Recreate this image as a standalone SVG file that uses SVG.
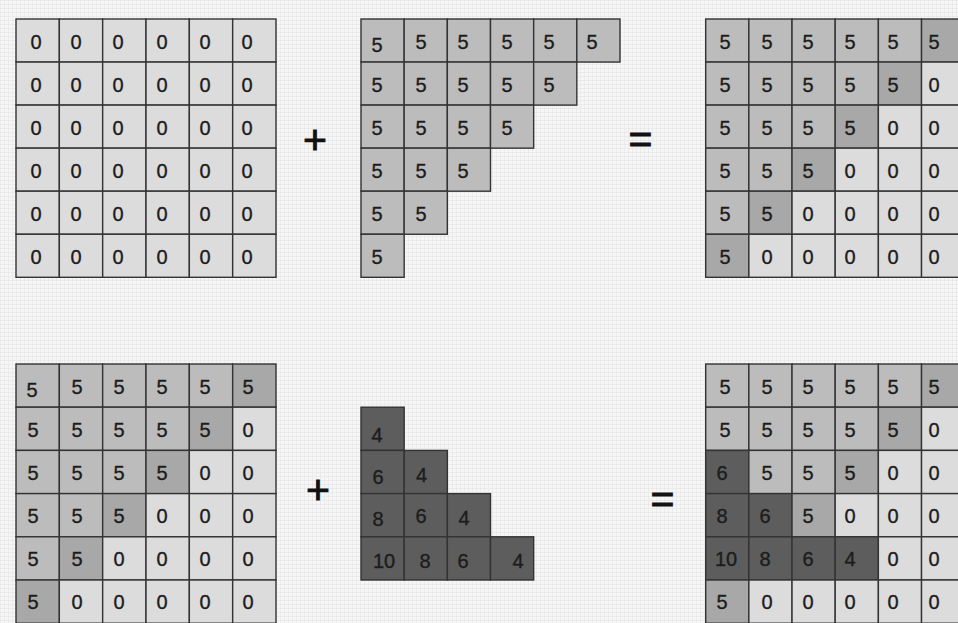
<svg xmlns="http://www.w3.org/2000/svg" width="958" height="623" viewBox="0 0 958 623">
<defs>
<pattern id="paper" width="4" height="4" patternUnits="userSpaceOnUse">
<rect width="4" height="4" fill="#f6f6f6"/>
<path d="M0 0.5H4M0.5 0V4" stroke="#e8e8e8" stroke-width="0.8"/>
</pattern>
</defs>
<style>
rect.l{fill:#dcdcdc}
rect.m{fill:#bcbcbc}
rect.d{fill:#a8a8a8}
rect.k{fill:#5d5d5d}
rect.l,rect.m,rect.d,rect.k{stroke:#333333;stroke-width:1.4}
text{font-family:"Liberation Sans",Arial,Helvetica,sans-serif;font-size:20px;fill:#1c1c1c;stroke:#1c1c1c;stroke-width:0.35;text-anchor:middle}
text.op{font-size:41px;fill:#111;stroke:#111;stroke-width:0.9}
</style>
<rect width="958" height="623" fill="url(#paper)"/>

<g id="grid-zeros">
<rect class="l" x="16" y="19" width="43.33" height="43.05"/><rect class="l" x="59.33" y="19" width="43.33" height="43.05"/><rect class="l" x="102.67" y="19" width="43.33" height="43.05"/><rect class="l" x="146" y="19" width="43.33" height="43.05"/><rect class="l" x="189.33" y="19" width="43.33" height="43.05"/><rect class="l" x="232.67" y="19" width="43.33" height="43.05"/>
<rect class="l" x="16" y="62.05" width="43.33" height="43.05"/><rect class="l" x="59.33" y="62.05" width="43.33" height="43.05"/><rect class="l" x="102.67" y="62.05" width="43.33" height="43.05"/><rect class="l" x="146" y="62.05" width="43.33" height="43.05"/><rect class="l" x="189.33" y="62.05" width="43.33" height="43.05"/><rect class="l" x="232.67" y="62.05" width="43.33" height="43.05"/>
<rect class="l" x="16" y="105.1" width="43.33" height="43.05"/><rect class="l" x="59.33" y="105.1" width="43.33" height="43.05"/><rect class="l" x="102.67" y="105.1" width="43.33" height="43.05"/><rect class="l" x="146" y="105.1" width="43.33" height="43.05"/><rect class="l" x="189.33" y="105.1" width="43.33" height="43.05"/><rect class="l" x="232.67" y="105.1" width="43.33" height="43.05"/>
<rect class="l" x="16" y="148.15" width="43.33" height="43.05"/><rect class="l" x="59.33" y="148.15" width="43.33" height="43.05"/><rect class="l" x="102.67" y="148.15" width="43.33" height="43.05"/><rect class="l" x="146" y="148.15" width="43.33" height="43.05"/><rect class="l" x="189.33" y="148.15" width="43.33" height="43.05"/><rect class="l" x="232.67" y="148.15" width="43.33" height="43.05"/>
<rect class="l" x="16" y="191.2" width="43.33" height="43.05"/><rect class="l" x="59.33" y="191.2" width="43.33" height="43.05"/><rect class="l" x="102.67" y="191.2" width="43.33" height="43.05"/><rect class="l" x="146" y="191.2" width="43.33" height="43.05"/><rect class="l" x="189.33" y="191.2" width="43.33" height="43.05"/><rect class="l" x="232.67" y="191.2" width="43.33" height="43.05"/>
<rect class="l" x="16" y="234.25" width="43.33" height="43.05"/><rect class="l" x="59.33" y="234.25" width="43.33" height="43.05"/><rect class="l" x="102.67" y="234.25" width="43.33" height="43.05"/><rect class="l" x="146" y="234.25" width="43.33" height="43.05"/><rect class="l" x="189.33" y="234.25" width="43.33" height="43.05"/><rect class="l" x="232.67" y="234.25" width="43.33" height="43.05"/>
<text x="36" y="48.5">0</text><text x="76" y="48.5">0</text><text x="118" y="48.5">0</text><text x="162" y="48.5">0</text><text x="205" y="48.5">0</text><text x="247" y="48.5">0</text>
<text x="36" y="91.5">0</text><text x="76" y="91.5">0</text><text x="118" y="91.5">0</text><text x="162" y="91.5">0</text><text x="205" y="91.5">0</text><text x="247" y="91.5">0</text>
<text x="36" y="134.5">0</text><text x="76" y="134.5">0</text><text x="118" y="134.5">0</text><text x="162" y="134.5">0</text><text x="205" y="134.5">0</text><text x="247" y="134.5">0</text>
<text x="36" y="177.5">0</text><text x="76" y="177.5">0</text><text x="118" y="177.5">0</text><text x="162" y="177.5">0</text><text x="205" y="177.5">0</text><text x="247" y="177.5">0</text>
<text x="36" y="220.5">0</text><text x="76" y="220.5">0</text><text x="118" y="220.5">0</text><text x="162" y="220.5">0</text><text x="205" y="220.5">0</text><text x="247" y="220.5">0</text>
<text x="36" y="263.5">0</text><text x="76" y="263.5">0</text><text x="118" y="263.5">0</text><text x="162" y="263.5">0</text><text x="205" y="263.5">0</text><text x="247" y="263.5">0</text>
</g>

<g id="triangle-fives">
<rect class="m" x="361" y="19" width="43.17" height="43.05"/><rect class="m" x="404.17" y="19" width="43.17" height="43.05"/><rect class="m" x="447.33" y="19" width="43.17" height="43.05"/><rect class="m" x="490.5" y="19" width="43.17" height="43.05"/><rect class="m" x="533.67" y="19" width="43.17" height="43.05"/><rect class="m" x="576.83" y="19" width="43.17" height="43.05"/>
<rect class="m" x="361" y="62.05" width="43.17" height="43.05"/><rect class="m" x="404.17" y="62.05" width="43.17" height="43.05"/><rect class="m" x="447.33" y="62.05" width="43.17" height="43.05"/><rect class="m" x="490.5" y="62.05" width="43.17" height="43.05"/><rect class="m" x="533.67" y="62.05" width="43.17" height="43.05"/>
<rect class="m" x="361" y="105.1" width="43.17" height="43.05"/><rect class="m" x="404.17" y="105.1" width="43.17" height="43.05"/><rect class="m" x="447.33" y="105.1" width="43.17" height="43.05"/><rect class="m" x="490.5" y="105.1" width="43.17" height="43.05"/>
<rect class="m" x="361" y="148.15" width="43.17" height="43.05"/><rect class="m" x="404.17" y="148.15" width="43.17" height="43.05"/><rect class="m" x="447.33" y="148.15" width="43.17" height="43.05"/>
<rect class="m" x="361" y="191.2" width="43.17" height="43.05"/><rect class="m" x="404.17" y="191.2" width="43.17" height="43.05"/>
<rect class="m" x="361" y="234.25" width="43.17" height="43.05"/>
<text x="377" y="51.5">5</text><text x="421" y="48.5">5</text><text x="463" y="48.5">5</text><text x="507" y="48.5">5</text><text x="549" y="48.5">5</text><text x="592" y="48.5">5</text>
<text x="377" y="91.5">5</text><text x="421" y="91.5">5</text><text x="463" y="91.5">5</text><text x="507" y="91.5">5</text><text x="549" y="91.5">5</text>
<text x="377" y="134.5">5</text><text x="421" y="134.5">5</text><text x="463" y="134.5">5</text><text x="507" y="134.5">5</text>
<text x="377" y="177.5">5</text><text x="421" y="177.5">5</text><text x="463" y="177.5">5</text>
<text x="377" y="220.5">5</text><text x="421" y="220.5">5</text>
<text x="377" y="263.5">5</text>
</g>

<g id="result-top">
<rect class="m" x="705.7" y="19" width="43.17" height="43.05"/><rect class="m" x="748.87" y="19" width="43.17" height="43.05"/><rect class="m" x="792.03" y="19" width="43.17" height="43.05"/><rect class="m" x="835.2" y="19" width="43.17" height="43.05"/><rect class="m" x="878.37" y="19" width="43.17" height="43.05"/><rect class="d" x="921.53" y="19" width="43.17" height="43.05"/>
<rect class="m" x="705.7" y="62.05" width="43.17" height="43.05"/><rect class="m" x="748.87" y="62.05" width="43.17" height="43.05"/><rect class="m" x="792.03" y="62.05" width="43.17" height="43.05"/><rect class="m" x="835.2" y="62.05" width="43.17" height="43.05"/><rect class="d" x="878.37" y="62.05" width="43.17" height="43.05"/><rect class="l" x="921.53" y="62.05" width="43.17" height="43.05"/>
<rect class="m" x="705.7" y="105.1" width="43.17" height="43.05"/><rect class="m" x="748.87" y="105.1" width="43.17" height="43.05"/><rect class="m" x="792.03" y="105.1" width="43.17" height="43.05"/><rect class="d" x="835.2" y="105.1" width="43.17" height="43.05"/><rect class="l" x="878.37" y="105.1" width="43.17" height="43.05"/><rect class="l" x="921.53" y="105.1" width="43.17" height="43.05"/>
<rect class="m" x="705.7" y="148.15" width="43.17" height="43.05"/><rect class="m" x="748.87" y="148.15" width="43.17" height="43.05"/><rect class="d" x="792.03" y="148.15" width="43.17" height="43.05"/><rect class="l" x="835.2" y="148.15" width="43.17" height="43.05"/><rect class="l" x="878.37" y="148.15" width="43.17" height="43.05"/><rect class="l" x="921.53" y="148.15" width="43.17" height="43.05"/>
<rect class="m" x="705.7" y="191.2" width="43.17" height="43.05"/><rect class="d" x="748.87" y="191.2" width="43.17" height="43.05"/><rect class="l" x="792.03" y="191.2" width="43.17" height="43.05"/><rect class="l" x="835.2" y="191.2" width="43.17" height="43.05"/><rect class="l" x="878.37" y="191.2" width="43.17" height="43.05"/><rect class="l" x="921.53" y="191.2" width="43.17" height="43.05"/>
<rect class="d" x="705.7" y="234.25" width="43.17" height="43.05"/><rect class="l" x="748.87" y="234.25" width="43.17" height="43.05"/><rect class="l" x="792.03" y="234.25" width="43.17" height="43.05"/><rect class="l" x="835.2" y="234.25" width="43.17" height="43.05"/><rect class="l" x="878.37" y="234.25" width="43.17" height="43.05"/><rect class="l" x="921.53" y="234.25" width="43.17" height="43.05"/>
<text x="725" y="48.5">5</text><text x="767" y="48.5">5</text><text x="808" y="48.5">5</text><text x="850" y="48.5">5</text><text x="893" y="48.5">5</text><text x="934" y="48.5">5</text>
<text x="725" y="91.5">5</text><text x="767" y="91.5">5</text><text x="808" y="91.5">5</text><text x="850" y="91.5">5</text><text x="893" y="91.5">5</text><text x="934" y="91.5">0</text>
<text x="725" y="134.5">5</text><text x="767" y="134.5">5</text><text x="808" y="134.5">5</text><text x="850" y="134.5">5</text><text x="893" y="134.5">0</text><text x="934" y="134.5">0</text>
<text x="725" y="177.5">5</text><text x="767" y="177.5">5</text><text x="808" y="177.5">5</text><text x="850" y="177.5">0</text><text x="893" y="177.5">0</text><text x="934" y="177.5">0</text>
<text x="725" y="220.5">5</text><text x="767" y="220.5">5</text><text x="808" y="220.5">0</text><text x="850" y="220.5">0</text><text x="893" y="220.5">0</text><text x="934" y="220.5">0</text>
<text x="725" y="263.5">5</text><text x="767" y="263.5">0</text><text x="808" y="263.5">0</text><text x="850" y="263.5">0</text><text x="893" y="263.5">0</text><text x="934" y="263.5">0</text>
</g>

<g id="grid-bottom-left">
<rect class="m" x="16" y="364" width="43.33" height="43.2"/><rect class="m" x="59.33" y="364" width="43.33" height="43.2"/><rect class="m" x="102.67" y="364" width="43.33" height="43.2"/><rect class="m" x="146" y="364" width="43.33" height="43.2"/><rect class="m" x="189.33" y="364" width="43.33" height="43.2"/><rect class="d" x="232.67" y="364" width="43.33" height="43.2"/>
<rect class="m" x="16" y="407.2" width="43.33" height="43.2"/><rect class="m" x="59.33" y="407.2" width="43.33" height="43.2"/><rect class="m" x="102.67" y="407.2" width="43.33" height="43.2"/><rect class="m" x="146" y="407.2" width="43.33" height="43.2"/><rect class="d" x="189.33" y="407.2" width="43.33" height="43.2"/><rect class="l" x="232.67" y="407.2" width="43.33" height="43.2"/>
<rect class="m" x="16" y="450.4" width="43.33" height="43.2"/><rect class="m" x="59.33" y="450.4" width="43.33" height="43.2"/><rect class="m" x="102.67" y="450.4" width="43.33" height="43.2"/><rect class="d" x="146" y="450.4" width="43.33" height="43.2"/><rect class="l" x="189.33" y="450.4" width="43.33" height="43.2"/><rect class="l" x="232.67" y="450.4" width="43.33" height="43.2"/>
<rect class="m" x="16" y="493.6" width="43.33" height="43.2"/><rect class="m" x="59.33" y="493.6" width="43.33" height="43.2"/><rect class="d" x="102.67" y="493.6" width="43.33" height="43.2"/><rect class="l" x="146" y="493.6" width="43.33" height="43.2"/><rect class="l" x="189.33" y="493.6" width="43.33" height="43.2"/><rect class="l" x="232.67" y="493.6" width="43.33" height="43.2"/>
<rect class="m" x="16" y="536.8" width="43.33" height="43.2"/><rect class="d" x="59.33" y="536.8" width="43.33" height="43.2"/><rect class="l" x="102.67" y="536.8" width="43.33" height="43.2"/><rect class="l" x="146" y="536.8" width="43.33" height="43.2"/><rect class="l" x="189.33" y="536.8" width="43.33" height="43.2"/><rect class="l" x="232.67" y="536.8" width="43.33" height="43.2"/>
<rect class="d" x="16" y="580" width="43.33" height="43.2"/><rect class="l" x="59.33" y="580" width="43.33" height="43.2"/><rect class="l" x="102.67" y="580" width="43.33" height="43.2"/><rect class="l" x="146" y="580" width="43.33" height="43.2"/><rect class="l" x="189.33" y="580" width="43.33" height="43.2"/><rect class="l" x="232.67" y="580" width="43.33" height="43.2"/>
<text x="32" y="397">5</text><text x="77" y="394">5</text><text x="119" y="394">5</text><text x="162" y="394">5</text><text x="205" y="394">5</text><text x="248" y="394">5</text>
<text x="33" y="437">5</text><text x="77" y="437">5</text><text x="119" y="437">5</text><text x="162" y="437">5</text><text x="205" y="437">5</text><text x="248" y="437">0</text>
<text x="33" y="480">5</text><text x="77" y="480">5</text><text x="119" y="480">5</text><text x="162" y="480">5</text><text x="205" y="480">0</text><text x="248" y="480">0</text>
<text x="33" y="523">5</text><text x="77" y="523">5</text><text x="119" y="523">5</text><text x="162" y="523">0</text><text x="205" y="523">0</text><text x="248" y="523">0</text>
<text x="33" y="566">5</text><text x="77" y="566">5</text><text x="119" y="566">0</text><text x="162" y="566">0</text><text x="205" y="566">0</text><text x="248" y="566">0</text>
<text x="33" y="609">5</text><text x="77" y="609">0</text><text x="119" y="609">0</text><text x="162" y="609">0</text><text x="205" y="609">0</text><text x="248" y="609">0</text>
</g>

<g id="triangle-increments">
<rect class="k" x="361" y="407.2" width="43.17" height="43.2"/>
<rect class="k" x="361" y="450.4" width="43.17" height="43.2"/><rect class="k" x="404.17" y="450.4" width="43.17" height="43.2"/>
<rect class="k" x="361" y="493.6" width="43.17" height="43.2"/><rect class="k" x="404.17" y="493.6" width="43.17" height="43.2"/><rect class="k" x="447.33" y="493.6" width="43.17" height="43.2"/>
<rect class="k" x="361" y="536.8" width="43.17" height="43.2"/><rect class="k" x="404.17" y="536.8" width="43.17" height="43.2"/><rect class="k" x="447.33" y="536.8" width="43.17" height="43.2"/><rect class="k" x="490.5" y="536.8" width="43.17" height="43.2"/>
<text x="377" y="442">4</text>
<text x="378" y="484">6</text><text x="421.5" y="481.5">4</text>
<text x="378" y="526">8</text><text x="421" y="523">6</text><text x="464" y="524.5">4</text>
<text x="384" y="567.5">10</text><text x="425" y="567.5">8</text><text x="463" y="567.5">6</text><text x="518" y="567.5">4</text>
</g>

<g id="result-bottom">
<rect class="m" x="705.7" y="364" width="43.17" height="43.2"/><rect class="m" x="748.87" y="364" width="43.17" height="43.2"/><rect class="m" x="792.03" y="364" width="43.17" height="43.2"/><rect class="m" x="835.2" y="364" width="43.17" height="43.2"/><rect class="m" x="878.37" y="364" width="43.17" height="43.2"/><rect class="d" x="921.53" y="364" width="43.17" height="43.2"/>
<rect class="m" x="705.7" y="407.2" width="43.17" height="43.2"/><rect class="m" x="748.87" y="407.2" width="43.17" height="43.2"/><rect class="m" x="792.03" y="407.2" width="43.17" height="43.2"/><rect class="m" x="835.2" y="407.2" width="43.17" height="43.2"/><rect class="d" x="878.37" y="407.2" width="43.17" height="43.2"/><rect class="l" x="921.53" y="407.2" width="43.17" height="43.2"/>
<rect class="k" x="705.7" y="450.4" width="43.17" height="43.2"/><rect class="m" x="748.87" y="450.4" width="43.17" height="43.2"/><rect class="m" x="792.03" y="450.4" width="43.17" height="43.2"/><rect class="d" x="835.2" y="450.4" width="43.17" height="43.2"/><rect class="l" x="878.37" y="450.4" width="43.17" height="43.2"/><rect class="l" x="921.53" y="450.4" width="43.17" height="43.2"/>
<rect class="k" x="705.7" y="493.6" width="43.17" height="43.2"/><rect class="k" x="748.87" y="493.6" width="43.17" height="43.2"/><rect class="d" x="792.03" y="493.6" width="43.17" height="43.2"/><rect class="l" x="835.2" y="493.6" width="43.17" height="43.2"/><rect class="l" x="878.37" y="493.6" width="43.17" height="43.2"/><rect class="l" x="921.53" y="493.6" width="43.17" height="43.2"/>
<rect class="k" x="705.7" y="536.8" width="43.17" height="43.2"/><rect class="k" x="748.87" y="536.8" width="43.17" height="43.2"/><rect class="k" x="792.03" y="536.8" width="43.17" height="43.2"/><rect class="k" x="835.2" y="536.8" width="43.17" height="43.2"/><rect class="l" x="878.37" y="536.8" width="43.17" height="43.2"/><rect class="l" x="921.53" y="536.8" width="43.17" height="43.2"/>
<rect class="d" x="705.7" y="580" width="43.17" height="43.2"/><rect class="l" x="748.87" y="580" width="43.17" height="43.2"/><rect class="l" x="792.03" y="580" width="43.17" height="43.2"/><rect class="l" x="835.2" y="580" width="43.17" height="43.2"/><rect class="l" x="878.37" y="580" width="43.17" height="43.2"/><rect class="l" x="921.53" y="580" width="43.17" height="43.2"/>
<text x="725" y="394">5</text><text x="767" y="394">5</text><text x="808" y="394">5</text><text x="850" y="394">5</text><text x="893" y="394">5</text><text x="934" y="394">5</text>
<text x="725" y="437">5</text><text x="767" y="437">5</text><text x="808" y="437">5</text><text x="850" y="437">5</text><text x="893" y="437">5</text><text x="934" y="437">0</text>
<text x="722" y="480">6</text><text x="767" y="480">5</text><text x="808" y="480">5</text><text x="850" y="480">5</text><text x="893" y="480">0</text><text x="934" y="480">0</text>
<text x="722" y="523">8</text><text x="765" y="523">6</text><text x="808" y="523">5</text><text x="850" y="523">0</text><text x="893" y="523">0</text><text x="934" y="523">0</text>
<text x="726" y="566">10</text><text x="765" y="566">8</text><text x="808" y="566">6</text><text x="850" y="566">4</text><text x="893" y="566">0</text><text x="934" y="566">0</text>
<text x="722" y="609">5</text><text x="767" y="609">0</text><text x="808" y="609">0</text><text x="850" y="609">0</text><text x="893" y="609">0</text><text x="934" y="609">0</text>
</g>

<g id="operators">
<text class="op" x="315" y="154">+</text>
<text class="op" x="640.5" y="153">=</text>
<text class="op" x="318" y="504">+</text>
<text class="op" x="662.5" y="512.5">=</text>
</g>
</svg>
